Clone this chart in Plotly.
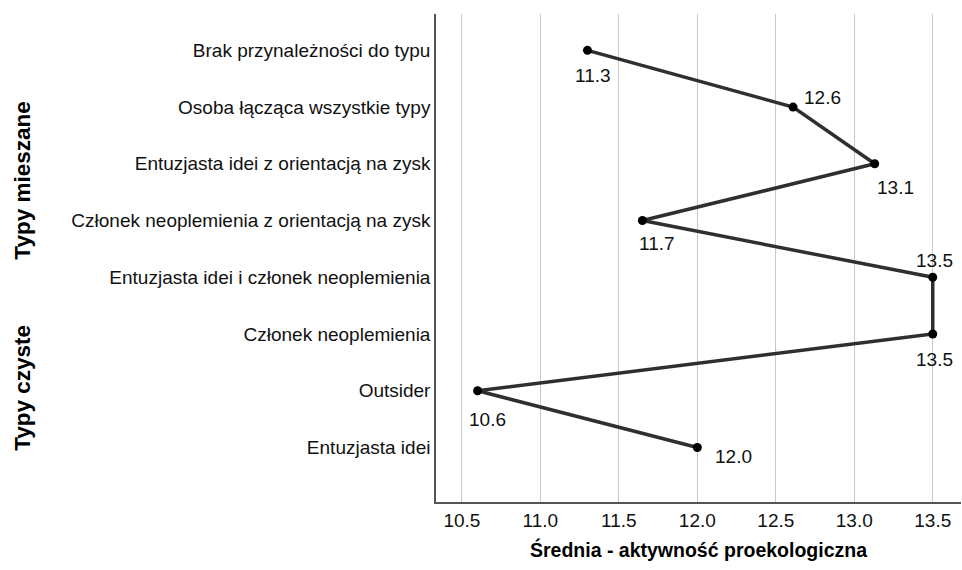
import plotly.graph_objects as go

# categories from bottom to top (y axis index 0 = bottom)
categories = [
    "Entuzjasta idei",
    "Outsider",
    "Członek neoplemienia",
    "Entuzjasta idei i członek neoplemienia",
    "Członek neoplemienia z orientacją na zysk",
    "Entuzjasta idei z orientacją na zysk",
    "Osoba łącząca wszystkie typy",
    "Brak przynależności do typu",
]
means = [12.0, 10.6, 13.5, 13.5, 11.65, 13.13, 12.61, 11.3]
labels = ["12.0", "10.6", "13.5", "13.5", "11.7", "13.1", "12.6", "11.3"]

x_ticks = [10.5, 11.0, 11.5, 12.0, 12.5, 13.0, 13.5]

groups = ["Typy mieszane", "Typy czyste"]
group_centers = [4.7, 1.05]

# label offsets in pixels (xshift, yshift)
label_shift = [(36, -9), (10, -29), (2, -25), (2, 17), (15, -23), (21, -24), (29, 10), (6, -25)]

FONT = "Liberation Sans, Arial, sans-serif"
y_idx = list(range(len(categories)))

fig = go.Figure()
fig.add_trace(
    go.Scatter(
        x=means,
        y=y_idx,
        mode="lines+markers",
        line={"color": "#2f2f2f", "width": 3.5},
        marker={"color": "#000000", "size": 9},
        showlegend=False,
        hoverinfo="skip",
    )
)

for yi, xv, txt, (dx, dy) in zip(y_idx, means, labels, label_shift):
    fig.add_annotation(
        x=xv,
        y=yi,
        text=txt,
        showarrow=False,
        xshift=dx,
        yshift=dy,
        font={"family": FONT, "size": 19, "color": "#111111"},
    )

for name, yc in zip(groups, group_centers):
    fig.add_annotation(
        x=-0.787,
        xref="paper",
        xanchor="center",
        y=yc,
        text="<b>" + name + "</b>",
        textangle=-90,
        showarrow=False,
        font={"family": FONT, "size": 22.5, "color": "#000000"},
    )

fig.update_xaxes(
    range=[10.335, 13.68],
    tickvals=x_ticks,
    ticktext=[f"{v:.1f}" for v in x_ticks],
    showgrid=True,
    gridcolor="#c8c8c8",
    gridwidth=1.2,
    zeroline=False,
    showline=True,
    linecolor="#555555",
    linewidth=1.5,
    ticks="",
    tickfont={"family": FONT, "size": 19, "color": "#111111"},
    title={
        "text": "<b>Średnia - aktywność proekologiczna</b>",
        "font": {"family": FONT, "size": 19.5, "color": "#000000"},
        "standoff": 14,
    },
)
fig.update_yaxes(
    range=[-0.96, 7.64],
    tickvals=y_idx,
    ticktext=categories,
    showgrid=False,
    zeroline=False,
    showline=True,
    linecolor="#555555",
    linewidth=1.5,
    ticks="",
    ticklabelstandoff=0,
    tickfont={"family": FONT, "size": 19, "color": "#111111"},
)
fig.update_layout(
    width=962,
    height=570,
    margin={"l": 436, "r": 1, "t": 14, "b": 68},
    plot_bgcolor="white",
    paper_bgcolor="white",
)

fig.write_html(
    "out.html",
    config={"displayModeBar": False},
    post_script="document.body.style.margin='0';",
)
